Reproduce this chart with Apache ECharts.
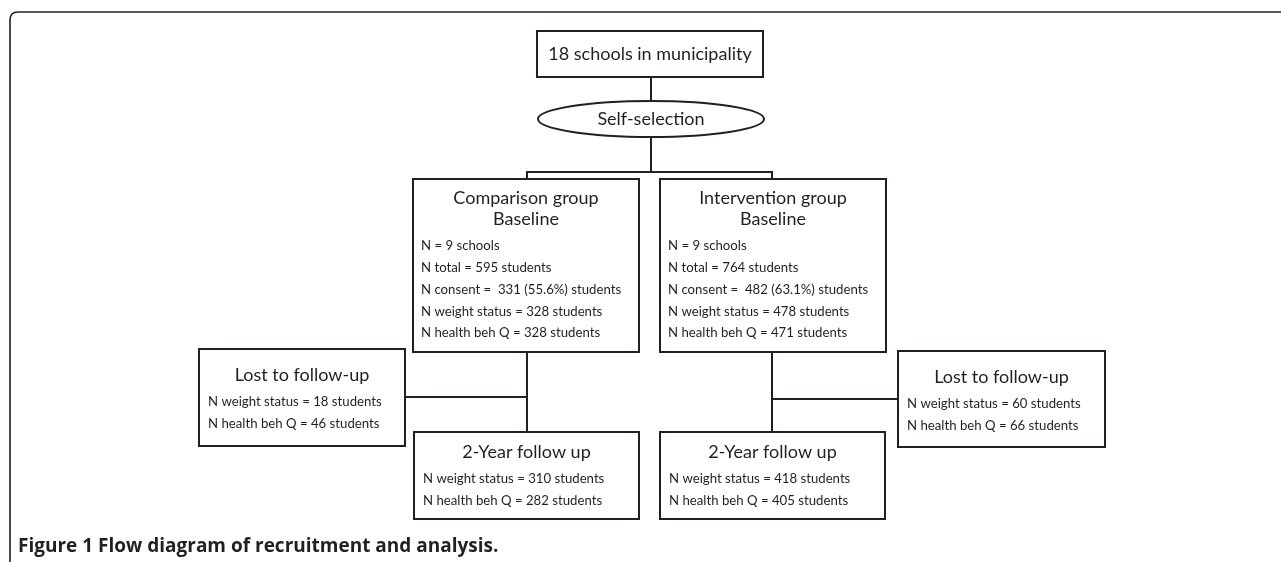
<!DOCTYPE html>
<html><head><meta charset="utf-8">
<script src="https://cdn.jsdelivr.net/npm/echarts@6/dist/echarts.min.js"></script>
<style>html,body{margin:0;padding:0;background:#fff}#c{width:1281px;height:562px}</style>
</head><body><div id="c"></div>
<script>
// ---- data ----
const municipalitySchools = 18;
const selectionLabel = 'Self-selection';
const groupNames = ['Comparison group', 'Intervention group'];
const baselineSchools = [9, 9];
const baselineTotal = [595, 764];
const baselineConsent = [331, 482];
const consentPercent = ['55.6%', '63.1%'];
const baselineWeight = [328, 478];
const baselineHealth = [328, 471];
const lostWeight = [18, 60];
const lostHealth = [46, 66];
const followWeight = [310, 418];
const followHealth = [282, 405];
const captionText = 'Figure 1 Flow diagram of recruitment and analysis.';

// ---- layout (pixel-space of a hidden 0..1281 x 0..562 cartesian grid) ----
const INK = '#231f20';
const FONT = 'Lato, "Open Sans", sans-serif';
const layout = {
  top: [537, 31, 763, 77],
  ellipse: [651, 119, 113, 18],
  base: [[413, 179, 639, 352], [660, 179, 886, 352]],
  lost: [[199, 349, 405, 446], [898, 351, 1105, 447]],
  follow: [[414, 432, 639, 519], [660, 432, 885, 519]]
};
const styleBase = { titleY: [19, 40], bodyY: 67, step: 21.8, pad: 8 };
const styleLost = { titleY: [26], bodyY: 53, step: 22, pad: 9 };
const styleFollow = { titleY: [20], bodyY: 47, step: 22, pad: 9 };
const styleTop = { titleY: [23], bodyY: 0, step: 0, pad: 0 };

const boxes = [];
boxes.push({ rect: layout.top, title: [municipalitySchools + ' schools in municipality'], body: [], s: styleTop });
for (let i = 0; i < 2; i++) {
  boxes.push({ rect: layout.base[i], s: styleBase, title: [groupNames[i], 'Baseline'], body: [
    'N = ' + baselineSchools[i] + ' schools',
    'N total = ' + baselineTotal[i] + ' students',
    'N consent =  ' + baselineConsent[i] + ' (' + consentPercent[i] + ') students',
    'N weight status = ' + baselineWeight[i] + ' students',
    'N health beh Q = ' + baselineHealth[i] + ' students'] });
  boxes.push({ rect: layout.lost[i], s: styleLost, title: ['Lost to follow-up'], body: [
    'N weight status = ' + lostWeight[i] + ' students',
    'N health beh Q = ' + lostHealth[i] + ' students'] });
  boxes.push({ rect: layout.follow[i], s: styleFollow, title: ['2-Year follow up'], body: [
    'N weight status = ' + followWeight[i] + ' students',
    'N health beh Q = ' + followHealth[i] + ' students'] });
}

const cb = (layout.base[0][0] + layout.base[0][2]) / 2 + 1;
const ib = (layout.base[1][0] + layout.base[1][2]) / 2 - 1;
const connectors = [
  [[651, 77], [651, 101]],
  [[651, 137], [651, 172]],
  [[cb, 179], [cb, 172], [ib, 172], [ib, 179]],
  [[cb, 352], [cb, 432]],
  [[405, 397], [cb, 397]],
  [[ib, 352], [ib, 432]],
  [[ib, 399], [898, 399]]
];
const framePath = [[10, 562], [10, 20], [18, 12], [1281, 12]];

function txt(text, x, y, size, align) {
  return { type: 'text', style: { text: text, x: x, y: y, fill: INK, fontSize: size, fontFamily: FONT,
    align: align, verticalAlign: 'middle', textAlign: align, textVerticalAlign: 'middle' } };
}

function renderBox(params, api) {
  const b = boxes[params.dataIndex];
  const p0 = api.coord([api.value(0), api.value(1)]);
  const p1 = api.coord([api.value(2), api.value(3)]);
  const cx = (p0[0] + p1[0]) / 2;
  const ch = [{ type: 'rect', shape: { x: p0[0], y: p0[1], width: p1[0] - p0[0], height: p1[1] - p0[1] },
    style: { fill: '#fff', stroke: INK, lineWidth: 2 } }];
  b.title.forEach((t, k) => ch.push(txt(t, cx, p0[1] + b.s.titleY[k], 18, 'center')));
  b.body.forEach((t, k) => ch.push(txt(t, p0[0] + b.s.pad, p0[1] + b.s.bodyY + k * b.s.step, 13.2, 'left')));
  return { type: 'group', children: ch };
}

function renderEllipse(params, api) {
  const c = api.coord([api.value(0), api.value(1)]);
  const e = api.coord([api.value(0) + api.value(2), api.value(1) + api.value(3)]);
  return { type: 'group', children: [
    { type: 'ellipse', shape: { cx: c[0], cy: c[1], rx: e[0] - c[0], ry: e[1] - c[1] },
      style: { fill: '#fff', stroke: INK, lineWidth: 2 } },
    txt(selectionLabel, c[0], c[1], 18, 'center')
  ] };
}

function renderFrame(params, api) {
  const pts = framePath.map(p => api.coord(p));
  const d = 'M' + pts[0][0] + ' ' + pts[0][1] + ' L' + pts[1][0] + ' ' + pts[1][1] +
    ' Q' + pts[1][0] + ' ' + pts[3][1] + ' ' + pts[2][0] + ' ' + pts[2][1] +
    ' L' + pts[3][0] + ' ' + pts[3][1];
  return { type: 'path', shape: { pathData: d }, style: { fill: null, stroke: INK, lineWidth: 1.6 } };
}

const chart = echarts.init(document.getElementById('c'));
chart.setOption({
  backgroundColor: '#fff',
  animation: false,
  title: { text: captionText, left: 18, top: 537, padding: 0,
    textStyle: { fontFamily: '"Open Sans", sans-serif', fontSize: 19, fontWeight: 'bold', color: INK } },
  grid: { left: 0, right: 0, top: 0, bottom: 0 },
  xAxis: { type: 'value', min: 0, max: 1281, show: false },
  yAxis: { type: 'value', min: 0, max: 562, inverse: true, show: false },
  series: [
    { type: 'custom', renderItem: renderFrame, data: [[0, 0]], z: 1, silent: true, clip: false },
    { type: 'lines', coordinateSystem: 'cartesian2d', polyline: true, z: 2, silent: true,
      lineStyle: { color: INK, width: 2, opacity: 1 },
      data: connectors.map(c => ({ coords: c })) },
    { type: 'custom', renderItem: renderEllipse, data: [layout.ellipse], z: 3, silent: true, clip: false },
    { type: 'custom', renderItem: renderBox, data: boxes.map(b => b.rect), z: 3, silent: true, clip: false }
  ]
});
</script></body></html>
